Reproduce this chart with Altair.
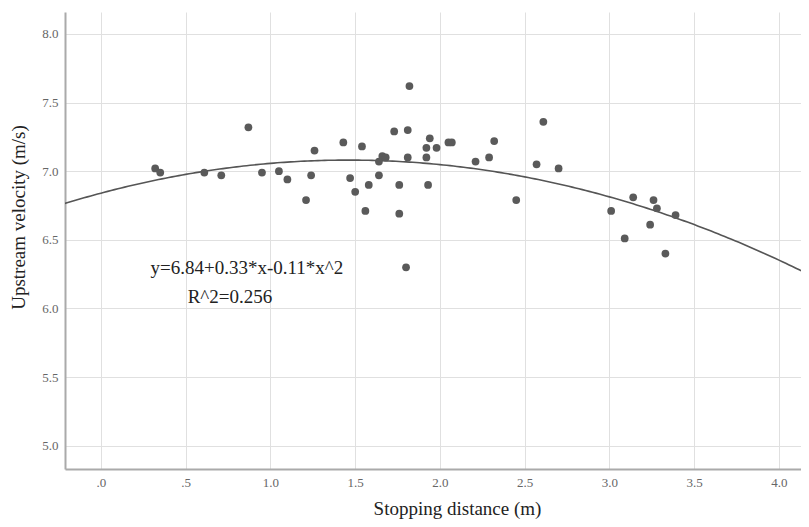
import altair as alt
import pandas as pd

# Scatter data
stopping_distance = [0.32, 0.35, 0.61, 0.71, 0.87, 0.95, 1.05, 1.10, 1.21, 1.24,
                     1.26, 1.43, 1.47, 1.50, 1.54, 1.56, 1.58, 1.64, 1.64, 1.66,
                     1.68, 1.73, 1.76, 1.76, 1.81, 1.82, 1.81, 1.80, 1.94, 1.92,
                     1.92, 1.93, 1.98, 2.05, 2.07, 2.21, 2.29, 2.32, 2.45, 2.57,
                     2.61, 2.70, 3.01, 3.09, 3.14, 3.26, 3.28, 3.24, 3.33, 3.39]
upstream_velocity = [7.02, 6.99, 6.99, 6.97, 7.32, 6.99, 7.00, 6.94, 6.79, 6.97,
                     7.15, 7.21, 6.95, 6.85, 7.18, 6.71, 6.90, 6.97, 7.07, 7.11,
                     7.10, 7.29, 6.90, 6.69, 7.30, 7.62, 7.10, 6.30, 7.24, 7.17,
                     7.10, 6.90, 7.17, 7.21, 7.21, 7.07, 7.10, 7.22, 6.79, 7.05,
                     7.36, 7.02, 6.71, 6.51, 6.81, 6.79, 6.73, 6.61, 6.40, 6.68]

# Fitted quadratic coefficients
B0, B1, B2 = 6.84, 0.33, -0.113

# Axis ticks
x_ticks = [0.0, 0.5, 1.0, 1.5, 2.0, 2.5, 3.0, 3.5, 4.0]
y_ticks = [5.0, 5.5, 6.0, 6.5, 7.0, 7.5, 8.0]

# Annotations
ann_text = ["y=6.84+0.33*x-0.11*x^2", "R^2=0.256"]
ann_x = [0.861, 0.761]
ann_y = [6.296, 6.081]

X_DOMAIN = [-0.212, 4.13]
Y_DOMAIN = [4.83, 8.16]
SERIF = "Liberation Serif"

pts = pd.DataFrame({"dist": stopping_distance, "vel": upstream_velocity})
ann = pd.DataFrame({"text": ann_text, "x": ann_x, "y": ann_y})

x_scale = alt.Scale(domain=X_DOMAIN, nice=False, zero=False)
y_scale = alt.Scale(domain=Y_DOMAIN, nice=False, zero=False)

x_axis = alt.Axis(
    values=x_ticks,
    labelExpr="datum.value < 1 ? '.' + format(datum.value * 10, 'd') : format(datum.value, '.1f')",
    title="Stopping distance (m)",
    titleFont=SERIF, titleFontSize=19, titleFontWeight="normal", titleColor="#222222",
    titleX=392, titleY=45, titleAlign="center", titleBaseline="alphabetic",
    labelFont=SERIF, labelFontSize=13, labelColor="#666666", labelPadding=7,
    ticks=False, domainColor="#aaaaaa", domainWidth=2,
    grid=True, gridColor="#e0e0e0", gridWidth=1,
)
y_axis = alt.Axis(
    values=y_ticks,
    format=".1f",
    title="Upstream velocity (m/s)",
    titleFont=SERIF, titleFontSize=19, titleFontWeight="normal", titleColor="#222222",
    titleX=-47, titleY=205, titleAngle=270, titleAlign="center", titleBaseline="middle",
    labelFont=SERIF, labelFontSize=13, labelColor="#666666", labelPadding=7,
    ticks=False, domainColor="#aaaaaa", domainWidth=2,
    grid=True, gridColor="#e0e0e0", gridWidth=1,
)

points = alt.Chart(pts).mark_point(filled=True, size=60, color="#5a5a5a", opacity=1).encode(
    x=alt.X("dist:Q", scale=x_scale, axis=x_axis),
    y=alt.Y("vel:Q", scale=y_scale, axis=y_axis),
)

curve = alt.Chart(alt.sequence(-0.22, 4.16, 0.02, as_="x")).transform_calculate(
    y=f"{B0} + {B1} * datum.x + ({B2}) * datum.x * datum.x"
).mark_line(color="#555555", strokeWidth=1.6, clip=True).encode(
    x=alt.X("x:Q", scale=x_scale),
    y=alt.Y("y:Q", scale=y_scale),
)

labels = alt.Chart(ann).mark_text(
    font=SERIF, fontSize=19, color="#222222", align="center", baseline="middle"
).encode(
    x=alt.X("x:Q", scale=x_scale),
    y=alt.Y("y:Q", scale=y_scale),
    text="text:N",
)

chart = alt.layer(curve, points, labels).properties(
    width=736, height=457,
    autosize=alt.AutoSizeParams(type="none"),
    padding={"left": 57, "top": 4, "right": 0, "bottom": 50},
    background="white",
).configure_view(stroke=None)

chart.save("out.html", embed_options={"renderer": "svg", "actions": False})
